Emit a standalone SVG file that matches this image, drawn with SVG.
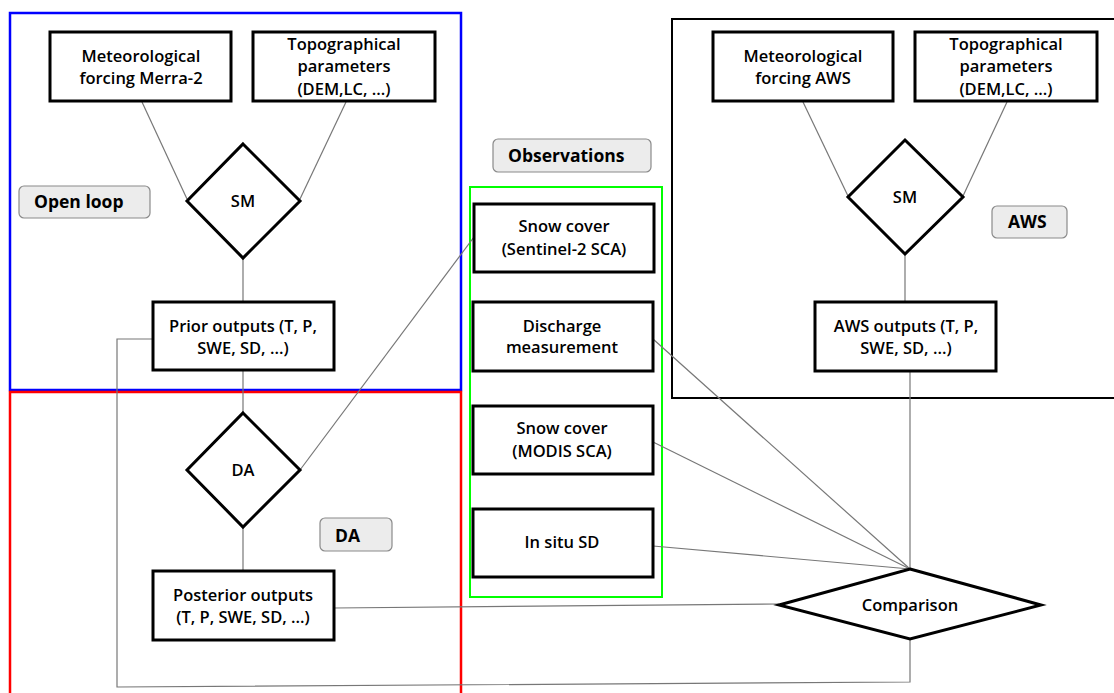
<svg xmlns="http://www.w3.org/2000/svg" width="1114" height="693" viewBox="0 0 1114 693">
<style>
.node{fill:#fff;stroke:#000;stroke-width:3}
.lab{fill:#ececec;stroke:#8a8a8a;stroke-width:1.2}
.t{font-family:"Open Sans","Liberation Sans",sans-serif;font-weight:600;font-size:16.5px;fill:#000;text-anchor:middle}
.lt{font-family:"Open Sans","Liberation Sans",sans-serif;font-weight:700;font-size:17.5px;fill:#000}
.c{fill:none;stroke:#777;stroke-width:1.2}
</style>
<rect width="1114" height="693" fill="#fff"/>
<g id="regions">
<rect x="10" y="13" width="451" height="377" fill="none" stroke="#0000ff" stroke-width="2.5"/>
<rect x="10" y="392" width="451" height="310" fill="none" stroke="#ff0000" stroke-width="2.5"/>
<rect x="672" y="19" width="460" height="379" fill="none" stroke="#000" stroke-width="2"/>
<rect x="470" y="187" width="192" height="410" fill="none" stroke="#00ff00" stroke-width="2"/>
</g>
<g id="connectors">
<line class="c" x1="142" y1="102" x2="187" y2="199"/>
<line class="c" x1="346" y1="102" x2="300" y2="199"/>
<line class="c" x1="243" y1="258" x2="243" y2="302"/>
<line class="c" x1="243" y1="371" x2="243" y2="413"/>
<line class="c" x1="243" y1="527" x2="243" y2="571"/>
<line class="c" x1="300" y1="470" x2="474" y2="237"/>
<polyline class="c" points="153,339 117,339 117,687 910,682 910,639"/>
<line class="c" x1="334" y1="608" x2="779" y2="604"/>
<line class="c" x1="803" y1="102" x2="848" y2="196"/>
<line class="c" x1="1007" y1="102" x2="963" y2="196"/>
<line class="c" x1="905" y1="254" x2="905" y2="302"/>
<line class="c" x1="910" y1="371" x2="910" y2="569"/>
<line class="c" x1="653" y1="339" x2="910" y2="569"/>
<line class="c" x1="653" y1="442" x2="910" y2="569"/>
<line class="c" x1="653" y1="546" x2="910" y2="569"/>
</g>
<g id="n-merra"><rect class="node" x="50" y="32" width="181" height="69"/><text class="t" x="141" y="62">Meteorological</text><text class="t" x="141" y="84">forcing Merra-2</text></g>
<g id="n-topo1"><rect class="node" x="253" y="32" width="182" height="69"/><text class="t" x="344" y="50">Topographical</text><text class="t" x="344" y="72">parameters</text><text class="t" x="344" y="95">(DEM,LC, ...)</text></g>
<g id="n-sm1"><polygon class="node" points="243,144 300,201 243,258 187,201"/><text class="t" x="243" y="207">SM</text></g>
<g id="n-prior"><rect class="node" x="153" y="302" width="181" height="68"/><text class="t" x="243" y="332">Prior outputs (T, P,</text><text class="t" x="243" y="354">SWE, SD, ...)</text></g>
<g id="n-da"><polygon class="node" points="243,413 300,470 243,527 187,470"/><text class="t" x="243" y="476">DA</text></g>
<g id="n-post"><rect class="node" x="153" y="571" width="181" height="69"/><text class="t" x="243" y="601">Posterior outputs</text><text class="t" x="243" y="623">(T, P, SWE, SD, ...)</text></g>
<g id="l-open"><rect class="lab" x="19" y="186" width="131" height="32" rx="5"/><text class="lt" x="34" y="208">Open loop</text></g>
<g id="l-da"><rect class="lab" x="320" y="518" width="72" height="33" rx="5"/><text class="lt" x="335" y="542">DA</text></g>
<g id="l-obs"><rect class="lab" x="493" y="139" width="158" height="33" rx="5"/><text class="lt" x="508" y="162">Observations</text></g>
<g id="l-aws"><rect class="lab" x="992" y="206" width="75" height="32" rx="5"/><text class="lt" x="1008" y="228">AWS</text></g>
<g id="n-sentinel"><rect class="node" x="474" y="204" width="180" height="68"/><text class="t" x="564" y="232">Snow cover</text><text class="t" x="564" y="255">(Sentinel-2 SCA)</text></g>
<g id="n-discharge"><rect class="node" x="473" y="302" width="180" height="69"/><text class="t" x="562" y="332">Discharge</text><text class="t" x="562" y="353">measurement</text></g>
<g id="n-modis"><rect class="node" x="473" y="406" width="180" height="68"/><text class="t" x="562" y="434">Snow cover</text><text class="t" x="562" y="457">(MODIS SCA)</text></g>
<g id="n-insitu"><rect class="node" x="473" y="509" width="180" height="68"/><text class="t" x="562" y="548">In situ SD</text></g>
<g id="n-metaws"><rect class="node" x="713" y="32" width="180" height="69"/><text class="t" x="803" y="62">Meteorological</text><text class="t" x="803" y="84">forcing AWS</text></g>
<g id="n-topo2"><rect class="node" x="915" y="32" width="182" height="69"/><text class="t" x="1006" y="50">Topographical</text><text class="t" x="1006" y="72">parameters</text><text class="t" x="1006" y="95">(DEM,LC, ...)</text></g>
<g id="n-sm2"><polygon class="node" points="905,140 963,197 905,254 848,197"/><text class="t" x="905" y="203">SM</text></g>
<g id="n-awsout"><rect class="node" x="815" y="302" width="181" height="69"/><text class="t" x="906" y="332">AWS outputs (T, P,</text><text class="t" x="906" y="354">SWE, SD, ...)</text></g>
<g id="n-comp"><polygon class="node" points="910,569 1041,605 910,639 779,605"/><text class="t" x="910" y="611">Comparison</text></g>
</svg>
